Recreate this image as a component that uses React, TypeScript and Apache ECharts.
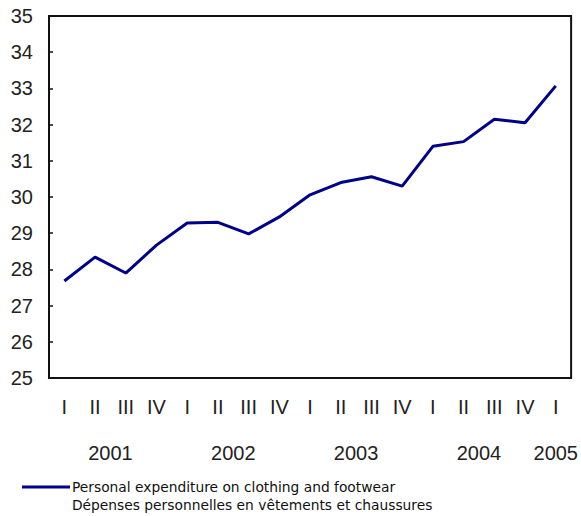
import React, { useEffect, useRef } from "react";
import * as echarts from "echarts";

const quarters = ["I", "II", "III", "IV", "I", "II", "III", "IV", "I", "II", "III", "IV", "I", "II", "III", "IV", "I"];
const values = [27.68, 28.34, 27.9, 28.67, 29.28, 29.3, 28.98, 29.45, 30.06, 30.4, 30.56, 30.3, 31.4, 31.53, 32.15, 32.05, 33.07];
const yearPositions = [2, 6, 10, 14, 16.5];
const yearLabels = ["2001", "2002", "2003", "2004", "2005"];
const seriesName = "Personal expenditure on clothing and footwear\nDépenses personnelles en vêtements et chaussures";

export default function App() {
  const ref = useRef<HTMLDivElement>(null);
  useEffect(() => {
    const chart = echarts.init(ref.current!, null, { renderer: "svg" });
    const axisFont = { fontFamily: "Liberation Sans, Arial", fontSize: 20, color: "#222" };
    chart.setOption({
      animation: false,
      grid: { left: 49, right: 5, top: 16, bottom: 138, show: true, borderColor: "#111", borderWidth: 2 },
      legend: {
        show: true,
        left: 22,
        top: 460,
        padding: 0,
        icon: "rect",
        itemWidth: 48,
        itemHeight: 3,
        itemGap: 2,
        formatter: (name: string) => "\n" + name,
        textStyle: {
          fontFamily: "DejaVu Sans",
          fontSize: 13.8,
          lineHeight: 18,
          color: "#111",
          padding: [0, 0, 0, -3],
        },
        data: [seriesName],
      },
      xAxis: [
        {
          type: "category",
          data: quarters,
          boundaryGap: true,
          axisLine: { lineStyle: { color: "#111", width: 2 } },
          axisTick: { inside: true, length: 4, lineStyle: { color: "#111", width: 1.5 } },
          axisLabel: { ...axisFont, margin: 19, interval: 0 },
          splitLine: { show: false },
        },
        {
          type: "value",
          min: 0,
          max: 17,
          interval: 0.5,
          position: "bottom",
          axisLine: { show: false },
          axisTick: { show: false },
          splitLine: { show: false },
          axisLabel: {
            ...axisFont,
            margin: 65,
            showMinLabel: true,
            showMaxLabel: true,
            formatter: (v: number) => {
              const i = yearPositions.indexOf(v);
              return i >= 0 ? yearLabels[i] : "";
            },
          },
        },
      ],
      yAxis: {
        type: "value",
        min: 25,
        max: 35,
        interval: 1,
        axisLine: { show: true, lineStyle: { color: "#111", width: 2 } },
        axisTick: { show: true, inside: true, length: 4, lineStyle: { color: "#111", width: 1.5 } },
        axisLabel: { ...axisFont, margin: 16 },
        splitLine: { show: false },
      },
      series: [
        {
          name: seriesName,
          type: "line",
          data: values,
          xAxisIndex: 0,
          symbol: "none",
          lineStyle: { color: "#00008B", width: 3 },
          itemStyle: { color: "#00008B" },
        },
      ],
    });
    return () => chart.dispose();
  }, []);
  return <div ref={ref} style={{ width: 581, height: 516, position: "absolute", left: 0, top: 0 }} />;
}
